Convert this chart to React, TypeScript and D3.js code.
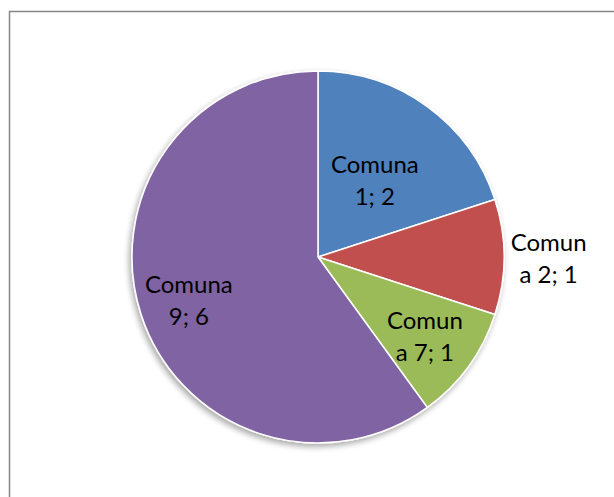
import React from "react";
import * as d3 from "d3";

const categories = ["Comuna 1", "Comuna 2", "Comuna 7", "Comuna 9"];
const values = [2, 1, 1, 6];
const colors = ["#4F81BD", "#C0504D", "#9BBB59", "#8064A2"];
// characters on first line of each wrapped label (Excel wrapping)
const wrapAt = [6, 5, 5, 6];
// label distance as a fraction of the radius
const labelRadius = [0.52, 1.24, 0.71, 0.73];

const W = 614;
const H = 497;
const cx = 318;
const cy = 257;
const R = 186;

export default function App() {
  const pie = d3.pie<number>().sort(null).value((d) => d)(values);
  const arc = d3.arc<d3.PieArcDatum<number>>().innerRadius(0).outerRadius(R);
  const fontSize = 24;
  const lineH = 32;
  return (
    <svg
      width={W}
      height={H}
      style={{ position: "absolute", left: 0, top: 0, display: "block" }}
    >
      <defs>
        <filter id="sh" x="-20%" y="-20%" width="140%" height="140%">
          <feGaussianBlur in="SourceAlpha" stdDeviation="3" />
          <feOffset dx="-2" dy="3" result="b" />
          <feComponentTransfer>
            <feFuncA type="linear" slope="0.35" />
          </feComponentTransfer>
          <feMerge>
            <feMergeNode />
            <feMergeNode in="SourceGraphic" />
          </feMerge>
        </filter>
      </defs>
      <rect x={0} y={0} width={W} height={H} fill="#fff" />
      <rect
        x={9.5}
        y={11.5}
        width={W + 20}
        height={H + 20}
        fill="none"
        stroke="#878787"
        strokeWidth={1.5}
      />
      <g transform={`translate(${cx},${cy})`}>
        <g filter="url(#sh)">
          {pie.map((p, i) => (
            <path
              key={i}
              d={arc(p) || ""}
              fill={colors[i]}
              stroke="#fff"
              strokeWidth={1.5}
            />
          ))}
        </g>
        {pie.map((p, i) => {
          const a = (p.startAngle + p.endAngle) / 2;
          const r = R * labelRadius[i];
          const x = Math.sin(a) * r;
          const y = -Math.cos(a) * r;
          const text = `${categories[i]}; ${values[i]}`;
          const l1 = text.slice(0, wrapAt[i]).trim();
          const l2 = text.slice(wrapAt[i]).trim();
          return (
            <text
              key={i}
              x={x}
              y={y}
              textAnchor="middle"
              fontFamily="Lato, 'Open Sans', sans-serif"
              fontSize={fontSize}
              fill="#000"
            >
              <tspan x={x} dy={-lineH / 2 + fontSize * 0.42}>
                {l1}
              </tspan>
              <tspan x={x} dy={lineH}>
                {l2}
              </tspan>
            </text>
          );
        })}
      </g>
    </svg>
  );
}
